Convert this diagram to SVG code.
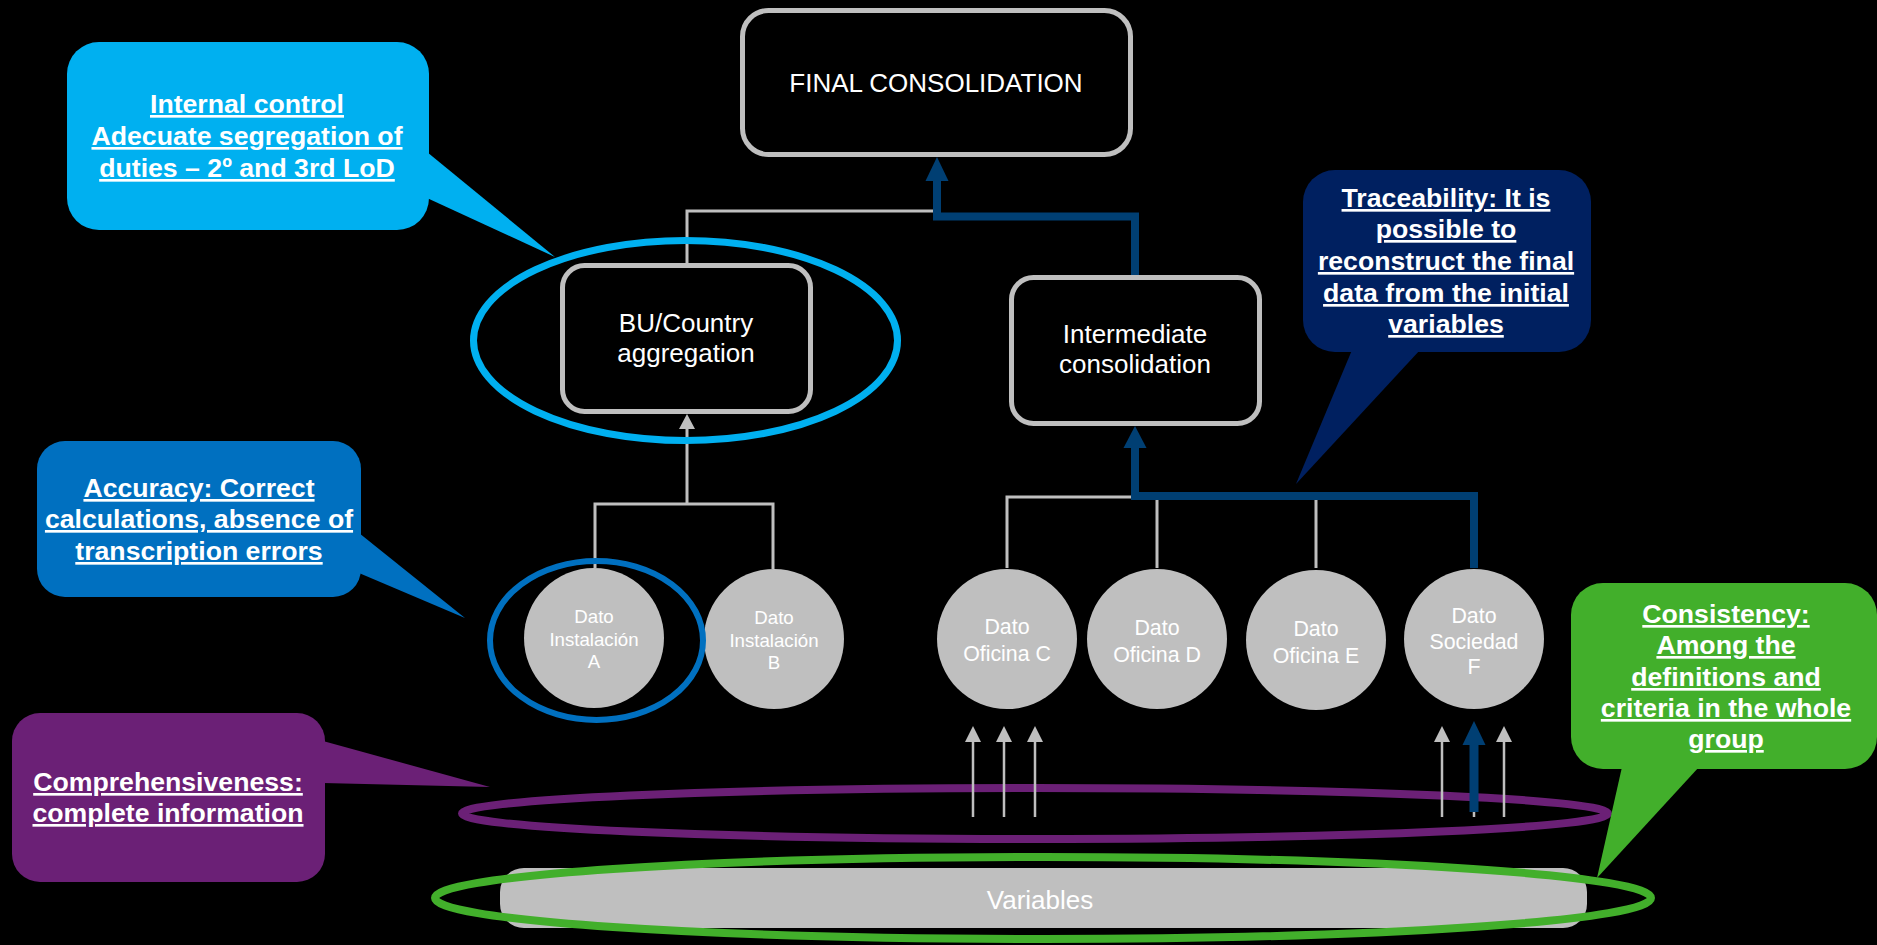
<svg xmlns="http://www.w3.org/2000/svg" width="1877" height="945" viewBox="0 0 1877 945">
<style>
  .box{fill:#000;stroke:#BFBFBF;stroke-width:5}
  .nt{font-family:"Liberation Sans",Arial,sans-serif;fill:#fff;text-anchor:middle;font-size:26px}
  .circ{fill:#BFBFBF}
  .dt{font-family:"Liberation Sans",Arial,sans-serif;fill:#fff;text-anchor:middle}
  .ct{font-family:"Liberation Sans",Arial,sans-serif;fill:#fff;text-anchor:middle;font-weight:bold;font-size:26.67px;text-decoration:underline}
  .gl{fill:none;stroke:#BFBFBF;stroke-width:3}
  .gs{fill:none;stroke:#BFBFBF;stroke-width:2.5}
  .bl{fill:none;stroke:#003F73;stroke-width:8;stroke-linejoin:miter}
  .gh{fill:#BFBFBF}
  .bh{fill:#003F73}
  .ring{fill:none}
</style>
<rect x="0" y="0" width="1877" height="945" fill="#000"/>

<g id="variables">
  <rect x="500" y="868" width="1087" height="60" rx="24" fill="#BFBFBF"/>
  <text class="dt" x="1040" y="909" font-size="26">Variables</text>
</g>

<g id="ring-comprehensiveness">
  <ellipse class="ring" cx="1035" cy="813.5" rx="573" ry="25.5" stroke="#6B2076" stroke-width="8"/>
</g>
<g id="ring-consistency">
  <ellipse class="ring" cx="1043" cy="898" rx="608" ry="41" stroke="#42AF2B" stroke-width="8"/>
</g>

<g id="connectors">
  <path class="gl" d="M687,263 V211 H934"/>
  <path class="bl" d="M1135,276 V216.5 H937 V180"/>
  <polygon class="bh" points="937,157 925.5,181 948.5,181"/>
  <path class="gl" d="M687,504 V427"/>
  <polygon class="gh" points="687,414 679,429 695,429"/>
  <path class="gl" d="M595,568 V504 H773 V569"/>
  <path class="gl" d="M1007,568 V497 H1132"/>
  <path class="gl" d="M1157,497 V568"/>
  <path class="gl" d="M1316,497 V568"/>
  <path class="bl" d="M1474,568 V496 H1135 V447"/>
  <polygon class="bh" points="1135,426 1123.5,448 1146.5,448"/>
  <path class="gs" d="M973,817 V740 M1004,817 V740 M1035,817 V740 M1442,817 V740 M1474,817 V740 M1504,817 V740"/>
  <polygon class="gh" points="973,726 965,742 981,742"/>
  <polygon class="gh" points="1004,726 996,742 1012,742"/>
  <polygon class="gh" points="1035,726 1027,742 1043,742"/>
  <polygon class="gh" points="1442,726 1434,742 1450,742"/>
  <polygon class="gh" points="1504,726 1496,742 1512,742"/>
  <path d="M1474,812 V742" stroke="#003F73" stroke-width="9" fill="none"/>
  <polygon class="bh" points="1474,721 1462.5,745 1485.5,745"/>
</g>

<g id="final-consolidation">
  <rect class="box" x="742.5" y="10.5" width="388" height="144" rx="26"/>
  <text class="nt" x="936" y="92">FINAL CONSOLIDATION</text>
</g>

<g id="bu-country">
  <rect class="box" x="562.5" y="265.5" width="248" height="146" rx="22"/>
  <text class="nt" x="686" y="332">BU/Country</text>
  <text class="nt" x="686" y="362">aggregation</text>
</g>

<g id="intermediate">
  <rect class="box" x="1011.5" y="277.5" width="248" height="146" rx="22"/>
  <text class="nt" x="1135" y="343">Intermediate</text>
  <text class="nt" x="1135" y="373">consolidation</text>
</g>

<g id="dato-a">
  <circle class="circ" cx="594" cy="638" r="70"/>
  <text class="dt" font-size="18.67" x="594" y="623">Dato</text>
  <text class="dt" font-size="18.67" x="594" y="646">Instalación</text>
  <text class="dt" font-size="18.67" x="594" y="668">A</text>
</g>
<g id="dato-b">
  <circle class="circ" cx="774" cy="639" r="70"/>
  <text class="dt" font-size="18.67" x="774" y="624">Dato</text>
  <text class="dt" font-size="18.67" x="774" y="647">Instalación</text>
  <text class="dt" font-size="18.67" x="774" y="669">B</text>
</g>
<g id="dato-c">
  <circle class="circ" cx="1007" cy="639" r="70"/>
  <text class="dt" font-size="21.33" x="1007" y="634">Dato</text>
  <text class="dt" font-size="21.33" x="1007" y="661">Oficina C</text>
</g>
<g id="dato-d">
  <circle class="circ" cx="1157" cy="639" r="70"/>
  <text class="dt" font-size="21.33" x="1157" y="635">Dato</text>
  <text class="dt" font-size="21.33" x="1157" y="662">Oficina D</text>
</g>
<g id="dato-e">
  <circle class="circ" cx="1316" cy="640" r="70"/>
  <text class="dt" font-size="21.33" x="1316" y="636">Dato</text>
  <text class="dt" font-size="21.33" x="1316" y="663">Oficina E</text>
</g>
<g id="dato-f">
  <circle class="circ" cx="1474" cy="639" r="70"/>
  <text class="dt" font-size="21.33" x="1474" y="623">Dato</text>
  <text class="dt" font-size="21.33" x="1474" y="649">Sociedad</text>
  <text class="dt" font-size="21.33" x="1474" y="674">F</text>
</g>

<g id="ring-bu">
  <ellipse class="ring" cx="685.5" cy="340.5" rx="212" ry="100" stroke="#00B0F0" stroke-width="7"/>
</g>
<g id="ring-accuracy">
  <ellipse class="ring" cx="596.5" cy="640.5" rx="106.5" ry="79.5" stroke="#0070C0" stroke-width="6"/>
</g>

<g id="callout-internal-control" fill="#00B0F0">
  <rect x="67" y="42" width="362" height="188" rx="32"/>
  <polygon points="427,152 555,257 427,198"/>
  <text class="ct" x="247" y="113">Internal control</text>
  <text class="ct" x="247" y="145">Adecuate segregation of</text>
  <text class="ct" x="247" y="177">duties – 2º and 3rd LoD</text>
</g>

<g id="callout-accuracy" fill="#0070C0">
  <rect x="37" y="441" width="324" height="156" rx="28"/>
  <polygon points="359,533 465,618 359,573"/>
  <text class="ct" x="199" y="497">Accuracy: Correct</text>
  <text class="ct" x="199" y="528">calculations, absence of</text>
  <text class="ct" x="199" y="560">transcription errors</text>
</g>

<g id="callout-traceability" fill="#002060">
  <rect x="1303" y="170" width="288" height="182" rx="32"/>
  <polygon points="1352,350 1296,484 1420,350"/>
  <text class="ct" x="1446" y="207">Traceability: It is</text>
  <text class="ct" x="1446" y="238">possible to</text>
  <text class="ct" x="1446" y="270">reconstruct the final</text>
  <text class="ct" x="1446" y="302">data from the initial</text>
  <text class="ct" x="1446" y="333">variables</text>
</g>

<g id="callout-comprehensiveness" fill="#6B2076">
  <rect x="12" y="713" width="313" height="169" rx="28"/>
  <polygon points="323,741 490,787 323,783"/>
  <text class="ct" x="168" y="791">Comprehensiveness:</text>
  <text class="ct" x="168" y="822">complete information</text>
</g>

<g id="callout-consistency" fill="#42AF2B">
  <rect x="1571" y="583" width="306" height="186" rx="32"/>
  <polygon points="1622,767 1597,878 1699,767"/>
  <text class="ct" x="1726" y="623">Consistency:</text>
  <text class="ct" x="1726" y="654">Among the</text>
  <text class="ct" x="1726" y="686">definitions and</text>
  <text class="ct" x="1726" y="717">criteria in the whole</text>
  <text class="ct" x="1726" y="748">group</text>
</g>
</svg>
